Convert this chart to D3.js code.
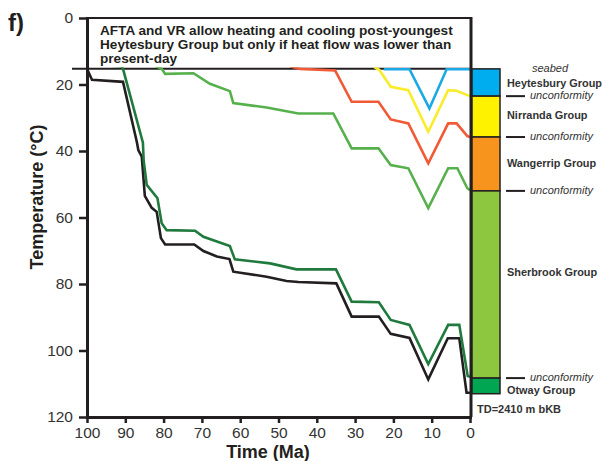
<!DOCTYPE html>
<html>
<head>
<meta charset="utf-8">
<script src="https://cdn.jsdelivr.net/npm/d3@7"></script>
<style>
body { margin: 0; background: #fff; }
svg { font-family: "Liberation Sans", Arial, sans-serif; }
</style>
</head>
<body>
<div id="chart"></div>
<script>
//----------------------------- Data
var timeTicks = [100, 90, 80, 70, 60, 50, 40, 30, 20, 10, 0];
var tempTicks = [0, 20, 40, 60, 80, 100, 120];

// [time Ma, temperature C]
var otwayPath = [[100, 15.3], [98.7, 18.6], [90.6, 19.2], [87.0, 37.2], [86.6, 39.7], [85.7, 41.7],
    [84.9, 53.5], [83.1, 57.1], [81.8, 58.3], [80.7, 66.2], [79.6, 68.1], [72.0, 68.1], [69.6, 70.1],
    [66.1, 71.7], [62.8, 72.5], [61.8, 76.3], [53.1, 77.8], [47.9, 79.1], [44.8, 79.4], [34.9, 79.8],
    [30.9, 89.8], [23.8, 89.8], [20.7, 95.0], [15.8, 96.2], [10.9, 108.7], [5.8, 96.3], [2.8, 96.3],
    [0.9, 112.7], [0, 112.7]];
var sherbrookPath = [[100, 14.0], [91.0, 14.5], [90.6, 15.3], [85.4, 37.5], [85.2, 43.0], [84.4, 50.2],
    [81.6, 54.2], [80.5, 61.7], [79.2, 63.8], [71.8, 64.0], [69.6, 65.8], [62.7, 68.6], [61.4, 72.6],
    [52.2, 73.8], [45.3, 75.6], [35.0, 75.6], [30.9, 85.3], [23.8, 85.5], [20.7, 90.8], [15.8, 92.3],
    [10.9, 104.1], [5.7, 92.3], [2.8, 92.3], [0.6, 107.7], [0, 107.9]];
var wangerripPath = [[82.0, 14.5], [80.5, 15.3], [79.6, 16.8], [72.2, 16.6], [67.9, 19.8], [62.7, 22.0],
    [61.8, 25.6], [53.1, 26.9], [44.8, 28.7], [35.7, 28.7], [30.9, 39.2], [23.9, 39.2], [20.7, 44.2],
    [16.1, 45.2], [10.9, 57.2], [5.7, 45.2], [3.3, 45.2], [0.7, 51.2], [0, 51.8]];
var nirrandaPath = [[47.0, 14.5], [44.4, 15.3], [35.2, 15.8], [30.9, 25.2], [23.9, 25.2], [20.7, 30.5],
    [16.1, 31.7], [10.9, 43.7], [5.7, 31.7], [3.5, 31.7], [0.7, 35.5], [0, 35.8]];
var heytesburyPath = [[25.0, 14.8], [23.7, 15.6], [20.7, 20.7], [16.1, 21.7], [10.9, 34.2], [5.7, 21.7],
    [3.5, 21.9], [0.7, 23.2], [0, 23.5]];
var seabedPath = [[22.5, 15.4], [15.8, 15.4], [10.6, 27.2], [6.1, 15.4], [0, 15.4]];

var groups = ["Heytesbury Group", "Nirranda Group", "Wangerrip Group", "Sherbrook Group", "Otway Group"];
var groupTop = [15.3, 23.5, 35.8, 52.0, 108.3];
var groupBase = [23.5, 35.8, 52.0, 108.3, 113.0];
var unconformities = [23.5, 35.8, 52.0, 108.3];
var seabedT = 15.3;

var titleLines = ["AFTA and VR allow heating and cooling post-youngest",
    "Heytesbury Group but only if heat flow was lower than",
    "present-day"];

//----------------------------- Layout
var w = 603;
var h = 461;
var ink = "#231f20";
var groupColors = ["#00aeef", "#fff200", "#f7941d", "#8dc63f", "#00a651"];
var labelT = [19.7, 29.2, 43.6, 76.4, 111.9];

var x = d3.scaleLinear().domain([100, 0]).range([87, 470]);
var y = d3.scaleLinear().domain([0, 120]).range([18, 417]);

var svg = d3.select("#chart")
    .append("svg")
    .attr("width", w)
    .attr("height", h);

// title box
svg.append("rect")
    .attr("x", x(100))
    .attr("y", y(0))
    .attr("width", x(0) - x(100))
    .attr("height", y(seabedT) - y(0))
    .attr("fill", "#fff");
svg.append("line")
    .attr("x1", x(100)).attr("x2", x(0) + 2)
    .attr("y1", y(0)).attr("y2", y(0))
    .attr("stroke", ink).attr("stroke-width", 2);
svg.append("line")
    .attr("x1", 72).attr("x2", x(0) + 2)
    .attr("y1", y(seabedT)).attr("y2", y(seabedT))
    .attr("stroke", ink).attr("stroke-width", 2);

svg.selectAll(".title-line")
    .data(titleLines)
    .enter()
    .append("text")
    .attr("class", "title-line")
    .attr("x", 100)
    .attr("y", function(d, i) { return 35 + i * 14; })
    .attr("font-size", "13.6px")
    .attr("font-weight", "bold")
    .attr("fill", ink)
    .text(function(d) { return d; });

// paths
svg.append("clipPath")
    .attr("id", "plot-clip")
    .append("rect")
    .attr("x", x(100))
    .attr("y", y(seabedT) - 1.5)
    .attr("width", x(0) - x(100))
    .attr("height", y(120) - y(seabedT) + 1.5);

var series = [
    { pts: otwayPath, color: ink },
    { pts: sherbrookPath, color: "#217a3d" },
    { pts: wangerripPath, color: "#56b04c" },
    { pts: nirrandaPath, color: "#f15a37" },
    { pts: heytesburyPath, color: "#f9ec2a" },
    { pts: seabedPath, color: "#1ba8e6" }
];

var line = d3.line()
    .x(function(d) { return x(d[0]); })
    .y(function(d) { return y(d[1]); });

svg.append("g")
    .attr("clip-path", "url(#plot-clip)")
    .selectAll("path")
    .data(series)
    .enter()
    .append("path")
    .attr("d", function(d) { return line(d.pts); })
    .attr("fill", "none")
    .attr("stroke", function(d) { return d.color; })
    .attr("stroke-width", 2.6)
    .attr("stroke-linejoin", "miter");

// axes
var yAxis = svg.append("g")
    .attr("transform", "translate(" + x(100) + ",0)")
    .call(d3.axisLeft(y).tickValues(tempTicks).tickSize(8).tickPadding(6).tickSizeOuter(0));
var xAxis = svg.append("g")
    .attr("transform", "translate(0," + y(120) + ")")
    .call(d3.axisBottom(x).tickValues(timeTicks).tickSize(6).tickPadding(4).tickSizeOuter(0));

[yAxis, xAxis].forEach(function(a) {
    a.select(".domain").attr("stroke", ink).attr("stroke-width", 3).attr("stroke-linecap", "square");
    a.selectAll(".tick line").attr("stroke", ink).attr("stroke-width", 2.5);
    a.selectAll(".tick text")
        .attr("fill", "#333")
        .attr("font-size", "15.5px")
        .attr("font-family", "'Liberation Sans', Arial, sans-serif");
});

// right-hand frame
svg.append("line")
    .attr("x1", x(0) + 1).attr("x2", x(0) + 1)
    .attr("y1", y(0) - 1).attr("y2", y(120))
    .attr("stroke", ink).attr("stroke-width", 3);

svg.append("text")
    .attr("x", 268)
    .attr("y", 458)
    .attr("text-anchor", "middle")
    .attr("font-size", "18px")
    .attr("font-weight", "bold")
    .attr("fill", ink)
    .text("Time (Ma)");

svg.append("text")
    .attr("transform", "translate(43," + 197 + ") rotate(-90)")
    .attr("text-anchor", "middle")
    .attr("font-size", "18px")
    .attr("font-weight", "bold")
    .attr("fill", ink)
    .text("Temperature (\u00b0C)");

svg.append("text")
    .attr("x", 8)
    .attr("y", 31)
    .attr("font-size", "24px")
    .attr("font-weight", "bold")
    .attr("fill", ink)
    .text("f)");

// stratigraphic column
var colX = x(0) + 2;
var colW = 28;

svg.selectAll(".unit")
    .data(groups)
    .enter()
    .append("rect")
    .attr("class", "unit")
    .attr("x", colX)
    .attr("y", function(d, i) { return y(groupTop[i]); })
    .attr("width", colW)
    .attr("height", function(d, i) { return y(groupBase[i]) - y(groupTop[i]); })
    .attr("fill", function(d, i) { return groupColors[i]; })
    .attr("stroke", ink)
    .attr("stroke-width", 1.5);

svg.selectAll(".unit-label")
    .data(groups)
    .enter()
    .append("text")
    .attr("class", "unit-label")
    .attr("x", 507)
    .attr("y", function(d, i) { return y(labelT[i]); })
    .attr("dy", "0.35em")
    .attr("font-size", "10.9px")
    .attr("font-weight", "bold")
    .attr("fill", "#333")
    .text(function(d) { return d; });

svg.selectAll(".unc-tick")
    .data(unconformities)
    .enter()
    .append("line")
    .attr("class", "unc-tick")
    .attr("x1", 506).attr("x2", 525)
    .attr("y1", function(d) { return y(d); })
    .attr("y2", function(d) { return y(d); })
    .attr("stroke", ink)
    .attr("stroke-width", 2);

svg.selectAll(".unc-label")
    .data(unconformities)
    .enter()
    .append("text")
    .attr("class", "unc-label")
    .attr("x", 530)
    .attr("y", function(d) { return y(d); })
    .attr("dy", "0.3em")
    .attr("font-size", "11px")
    .attr("font-style", "italic")
    .attr("fill", "#333")
    .text("unconformity");

svg.append("text")
    .attr("x", 532)
    .attr("y", y(seabedT) + 3)
    .attr("font-size", "11px")
    .attr("font-style", "italic")
    .attr("fill", "#333")
    .text("seabed");

svg.append("text")
    .attr("x", 477)
    .attr("y", y(groupBase[4]) + 19)
    .attr("font-size", "11px")
    .attr("font-weight", "bold")
    .attr("fill", "#333")
    .text("TD=2410 m bKB");
</script>
</body>
</html>
